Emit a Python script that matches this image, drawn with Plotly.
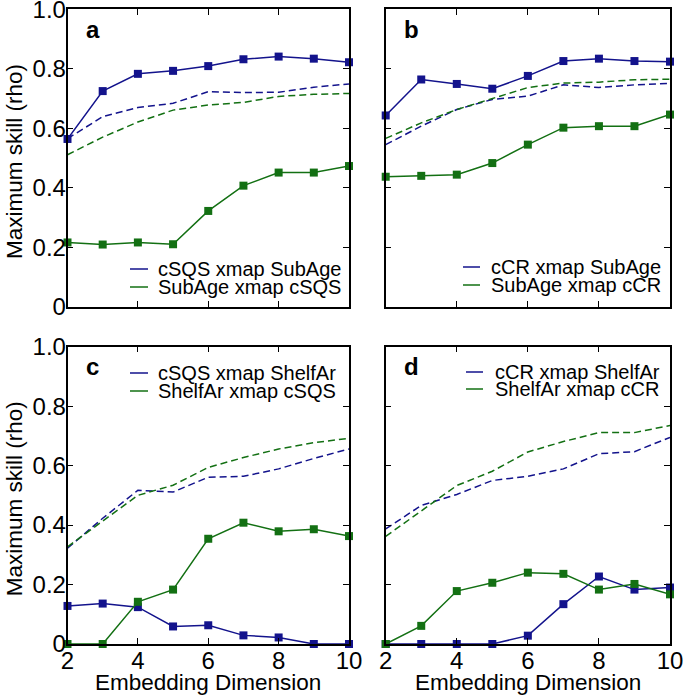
import plotly.graph_objects as go

dims = [2, 3, 4, 5, 6, 7, 8, 9, 10]

# Panel a
a_blue = [0.564, 0.725, 0.783, 0.793, 0.809, 0.832, 0.841, 0.834, 0.822]
a_green = [0.216, 0.209, 0.216, 0.210, 0.322, 0.407, 0.451, 0.451, 0.473]
a_blue_d = [0.565, 0.639, 0.670, 0.684, 0.723, 0.720, 0.721, 0.738, 0.749]
a_green_d = [0.511, 0.570, 0.621, 0.661, 0.678, 0.687, 0.707, 0.714, 0.717]
# Panel b
b_blue = [0.643, 0.764, 0.749, 0.733, 0.776, 0.826, 0.834, 0.826, 0.824]
b_green = [0.437, 0.440, 0.444, 0.483, 0.545, 0.602, 0.607, 0.607, 0.646]
b_blue_d = [0.545, 0.607, 0.663, 0.697, 0.708, 0.746, 0.737, 0.746, 0.751]
b_green_d = [0.566, 0.618, 0.663, 0.700, 0.737, 0.752, 0.755, 0.763, 0.765]
# Panel c
c_blue = [0.128, 0.136, 0.124, 0.059, 0.063, 0.029, 0.022, 0.0, 0.0]
c_green = [0.0, 0.0, 0.142, 0.183, 0.354, 0.408, 0.379, 0.386, 0.363]
c_blue_d = [0.322, 0.423, 0.517, 0.511, 0.561, 0.564, 0.589, 0.624, 0.656]
c_green_d = [0.327, 0.415, 0.500, 0.534, 0.594, 0.627, 0.656, 0.677, 0.692]
# Panel d
d_blue = [0.0, 0.0, 0.0, 0.0, 0.028, 0.134, 0.227, 0.183, 0.190]
d_green = [0.0, 0.061, 0.178, 0.206, 0.240, 0.236, 0.183, 0.202, 0.167]
d_blue_d = [0.387, 0.466, 0.503, 0.550, 0.564, 0.589, 0.640, 0.647, 0.695]
d_green_d = [0.362, 0.449, 0.533, 0.581, 0.646, 0.681, 0.711, 0.711, 0.735]

panel_letters = ["a", "b", "c", "d"]
legend_labels = [
    ["cSQS xmap SubAge", "SubAge xmap cSQS"],
    ["cCR xmap SubAge", "SubAge xmap cCR"],
    ["cSQS xmap ShelfAr", "ShelfAr xmap cSQS"],
    ["cCR xmap ShelfAr", "ShelfAr xmap cCR"],
]
x_ticks = [2, 4, 6, 8, 10]
y_ticks = [0, 0.2, 0.4, 0.6, 0.8, 1.0]
y_ticktext = ["0", "0.2", "0.4", "0.6", "0.8", "1.0"]
x_title = "Embedding Dimension"
y_title = "Maximum skill (rho)"

panels = [
    (a_blue, a_green, a_blue_d, a_green_d),
    (b_blue, b_green, b_blue_d, b_green_d),
    (c_blue, c_green, c_blue_d, c_green_d),
    (d_blue, d_green, d_blue_d, d_green_d),
]

BLUE = "#13138c"
GREEN = "#137013"
FONT = "Liberation Sans, Arial, sans-serif"

W, H = 685, 697
# pixel boxes (left, right, top, bottom)
boxes = [
    (67.5, 349.0, 9.3, 306.7),
    (385.7, 670.0, 9.3, 306.7),
    (67.5, 349.0, 346.7, 644.0),
    (385.7, 670.0, 346.7, 644.0),
]

fig = go.Figure()
layout = dict(
    width=W, height=H,
    margin=dict(l=0, r=0, t=0, b=0),
    paper_bgcolor="white", plot_bgcolor="white",
    showlegend=False,
    font=dict(family=FONT, color="black"),
)

annotations = []
shapes = []

for i, (blue, green, blue_d, green_d) in enumerate(panels):
    n = i + 1
    xa = "x" if n == 1 else f"x{n}"
    ya = "y" if n == 1 else f"y{n}"
    l, r, t, b = boxes[i]
    xdom = [l / W, r / W]
    ydom = [(H - b) / H, (H - t) / H]
    bottom_row = i >= 2
    left_col = i % 2 == 0
    xkey = "xaxis" if n == 1 else f"xaxis{n}"
    ykey = "yaxis" if n == 1 else f"yaxis{n}"
    layout[xkey] = dict(
        domain=xdom, anchor=ya, range=[2, 10], automargin=False,
        tickvals=x_ticks, showticklabels=bottom_row,
        ticks="inside", ticklen=6, tickwidth=1.2, tickcolor="black",
        showline=True, linecolor="black", linewidth=1.5, mirror="ticks",
        showgrid=False, zeroline=False, ticklabeloverflow="allow",
        ticklabelstandoff=-6,
        tickfont=dict(size=24, family=FONT),
    )
    layout[ykey] = dict(
        domain=ydom, anchor=xa, range=[0, 1], automargin=False,
        tickvals=y_ticks, ticktext=y_ticktext, showticklabels=left_col,
        ticks="inside", ticklen=6, tickwidth=1.2, tickcolor="black",
        showline=True, linecolor="black", linewidth=1.5, mirror="ticks",
        showgrid=False, zeroline=False, ticklabeloverflow="allow",
        ticklabelstandoff=-5,
        tickfont=dict(size=24, family=FONT),
    )

    for vals, color in ((blue_d, BLUE), (green_d, GREEN)):
        fig.add_trace(go.Scatter(
            x=dims, y=vals, mode="lines", xaxis=xa, yaxis=ya,
            line=dict(color=color, width=1.5, dash="7px,4px"),
            cliponaxis=False,
        ))
    for vals, color in ((blue, BLUE), (green, GREEN)):
        fig.add_trace(go.Scatter(
            x=dims, y=vals, mode="lines+markers", xaxis=xa, yaxis=ya,
            line=dict(color=color, width=1.5),
            marker=dict(symbol="square", size=8, color=color),
            cliponaxis=False,
        ))

    # panel letter
    annotations.append(dict(
        text=f"<b>{panel_letters[i]}</b>", x=(l + 16) / W, y=(H - (t + 20)) / H,
        xref="paper", yref="paper", xanchor="left", yanchor="middle",
        showarrow=False, font=dict(size=24, family=FONT, color="black"),
    ))
    # axis titles
    if bottom_row:
        annotations.append(dict(
            text=x_title, x=(l + r) / 2 / W, y=(H - 682) / H,
            xref="paper", yref="paper", xanchor="center", yanchor="middle",
            showarrow=False, font=dict(size=22.5, family=FONT, color="black"),
        ))
    if left_col:
        annotations.append(dict(
            text=y_title, x=14 / W, y=(H - (t + b) / 2 - 4) / H, textangle=-90,
            xref="paper", yref="paper", xanchor="center", yanchor="middle",
            showarrow=False, font=dict(size=22.5, family=FONT, color="black"),
        ))

# legend positions (line x0, x1, text x, row y1, row y2)
leg_pos = [
    (130, 148, 156, 269, 287),
    (463, 480, 489, 267, 285),
    (130, 148, 156, 373, 391),
    (466, 483, 493, 372, 389),
]
for i, (x0, x1, tx, r1, r2) in enumerate(leg_pos):
    for label, ry, color in ((legend_labels[i][0], r1, BLUE), (legend_labels[i][1], r2, GREEN)):
        shapes.append(dict(
            type="line", xref="paper", yref="paper",
            x0=x0 / W, x1=x1 / W, y0=(H - ry) / H, y1=(H - ry) / H,
            line=dict(color=color, width=1.5),
        ))
        annotations.append(dict(
            text=label, x=tx / W, y=(H - ry) / H, xref="paper", yref="paper",
            xanchor="left", yanchor="middle", showarrow=False,
            font=dict(size=20, family=FONT, color="black"),
        ))

layout["annotations"] = annotations
layout["shapes"] = shapes
fig.update_layout(**layout)
fig.write_html(
    "out.html",
    config={"displayModeBar": False},
    post_script="document.body.style.margin='0';document.body.style.overflow='hidden';",
)
